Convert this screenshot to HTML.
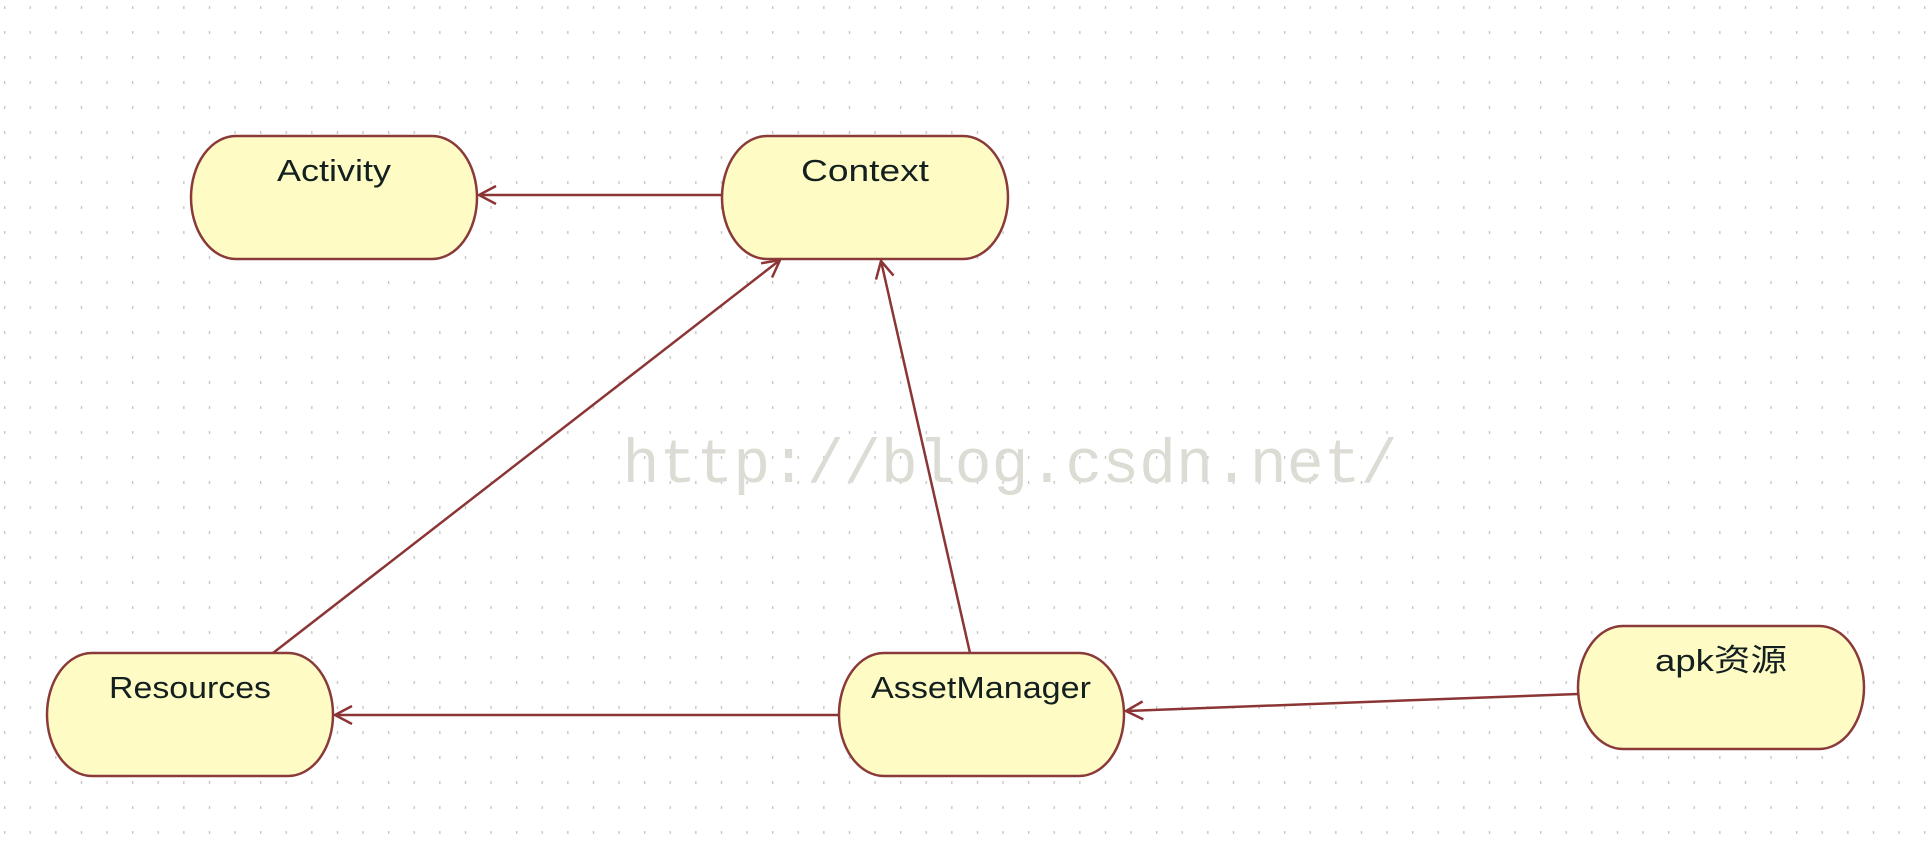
<!DOCTYPE html>
<html><head><meta charset="utf-8"><style>
html,body{margin:0;padding:0;background:#fff;}
body{width:1932px;height:852px;overflow:hidden;}
</style></head><body>
<svg width="1932" height="852" style="position:absolute;left:0;top:0" xmlns="http://www.w3.org/2000/svg">
<defs>
<pattern id="g" width="25.6" height="25" patternUnits="userSpaceOnUse" x="4" y="6">
<rect x="0" y="0" width="1.3" height="3" fill="#c4c4c4"/>
</pattern>
<marker id="a" markerWidth="24" markerHeight="24" refX="20" refY="10" orient="auto" markerUnits="userSpaceOnUse">
<path d="M3,1 L20,10 L3,19" fill="none" stroke="#8b3535" stroke-width="2.5"/>
</marker>
</defs>
<rect width="1932" height="852" fill="#fff"/>
<rect width="1932" height="852" fill="url(#g)"/>
<text x="1010" y="482" text-anchor="middle" font-family="Liberation Mono, monospace" font-size="62" fill="#dcdcd4" textLength="775" lengthAdjust="spacingAndGlyphs">http://blog.csdn.net/</text>
<g fill="#fefcc4" stroke="#8b3a3a" stroke-width="2.5">
<rect x="191" y="136" width="286" height="123" rx="45" ry="62"/>
<rect x="722" y="136" width="286" height="123" rx="45" ry="62"/>
<rect x="47" y="653" width="286" height="123" rx="45" ry="62"/>
<rect x="839" y="653" width="285" height="123" rx="45" ry="62"/>
<rect x="1578" y="626" width="286" height="123" rx="45" ry="62"/>
</g>
<g font-family="Liberation Sans, 'Noto Sans CJK SC', sans-serif" font-size="31" fill="#14201f" text-anchor="middle">
<text x="334" y="181" textLength="114" lengthAdjust="spacingAndGlyphs">Activity</text>
<text x="865" y="181" textLength="128" lengthAdjust="spacingAndGlyphs">Context</text>
<text x="190" y="698" textLength="162" lengthAdjust="spacingAndGlyphs">Resources</text>
<text x="981" y="698" textLength="220" lengthAdjust="spacingAndGlyphs">AssetManager</text>
<text x="1721" y="671" textLength="132" lengthAdjust="spacingAndGlyphs">apk资源</text>
</g>
<g stroke="#8b3535" stroke-width="2.5" fill="none" marker-end="url(#a)">
<line x1="722" y1="195" x2="479" y2="195"/>
<line x1="273" y1="653" x2="780" y2="260"/>
<line x1="970" y1="653" x2="881" y2="261"/>
<line x1="839" y1="715" x2="335" y2="715"/>
<line x1="1578" y1="694" x2="1126" y2="711"/>
</g>
</svg>
</body></html>
